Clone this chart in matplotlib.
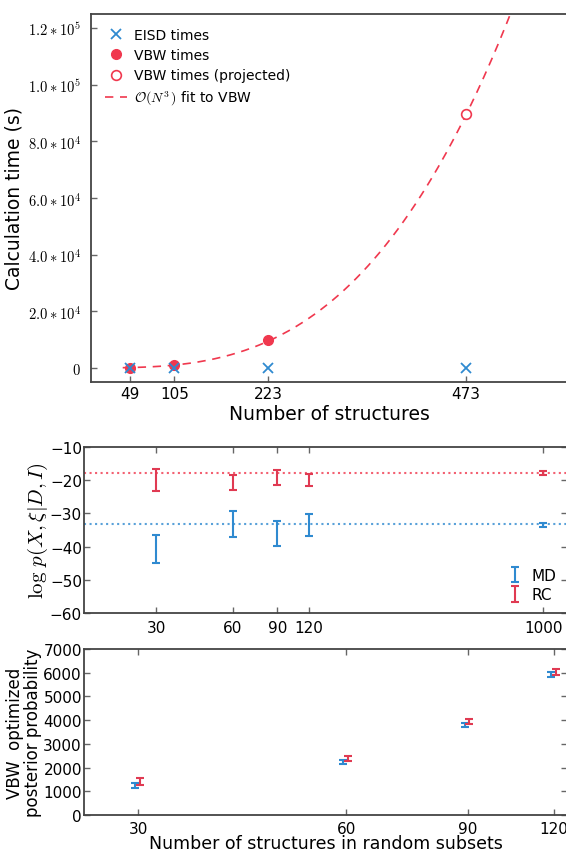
import numpy as np
import matplotlib
matplotlib.use("Agg")
import matplotlib.pyplot as plt
from matplotlib.ticker import FixedLocator, FixedFormatter, NullLocator

plt.rcParams['mathtext.fontset'] = 'cm'
plt.rcParams['font.family'] = ['DejaVu Sans']

# ---------------- data ----------------
# top panel
n_structs = [49, 105, 223, 473]
eisd_times = [5, 10, 30, 90]
vbw_n = [49, 105, 223]
vbw_times = [120, 1150, 9700]
vbw_proj_n = [473]
vbw_proj_times = [89500]
top_yticks = [0, 20000, 40000, 60000, 80000, 100000, 120000]
top_ytick_labels = [r'$0$', r'$2.0\ast10^{4}$', r'$4.0\ast10^{4}$', r'$6.0\ast10^{4}$',
                    r'$8.0\ast10^{4}$', r'$1.0\ast10^{5}$', r'$1.2\ast10^{5}$']

# middle panel
subset_n = [30, 60, 90, 120, 1000]
md_mean = [-40.7, -33.1, -36.0, -33.5, -33.5]
md_err = [4.3, 3.9, 3.7, 3.4, 0.6]
rc_mean = [-19.9, -20.6, -19.2, -19.9, -17.8]
rc_err = [3.4, 2.3, 2.3, 1.8, 0.6]
md_ref = -33.3
rc_ref = -17.8

# bottom panel
post_n = [30, 60, 90, 120]
md_post = [1240, 2240, 3800, 5920]
md_post_err = [120, 70, 90, 100]
rc_post = [1400, 2390, 3940, 6030]
rc_post_err = [140, 110, 120, 110]

# ---------------- style ----------------
BLUE = '#2f8ad0'
RED = '#f0384e'
RED2 = '#e03a52'
SPINE = '#444444'
W, H = 566, 853

fig = plt.figure(figsize=(W / 100, H / 100), dpi=100)

def ax_at(left, top, right, bottom):
    return fig.add_axes([left / W, 1 - bottom / H, (right - left) / W, (bottom - top) / H])

def style(ax, allsides=True):
    for s in ax.spines.values():
        s.set_color(SPINE)
        s.set_linewidth(1.3)
    ax.tick_params(direction='in', length=4, width=1, color='#666666',
                   top=allsides, right=allsides, labelsize=11)

# ---------------- top ----------------
ax1 = ax_at(91, 15, 567, 383)
style(ax1, allsides=False)
ax1.plot(n_structs, eisd_times, 'x', color=BLUE, ms=7, mew=1.3, label='EISD times', zorder=4)
ax1.plot(vbw_n, vbw_times, 'o', color=RED, ms=7, mec=RED, label='VBW times', zorder=3)
ax1.plot(vbw_proj_n, vbw_proj_times, 'o', mfc='white', mec=RED, ms=7, mew=1.2,
         label='VBW times (projected)', zorder=3)
all_n = np.array(vbw_n + vbw_proj_n, dtype=float)
all_t = np.array(vbw_times + vbw_proj_times, dtype=float)
a = np.sum(all_t * all_n ** 3) / np.sum(all_n ** 6)
nn = np.linspace(40, 600, 300)
ax1.plot(nn, a * nn ** 3, '--', color=RED, lw=1.2, dashes=(5, 4),
         label=r'$\mathcal{O}(N^3\,)$ fit to VBW', zorder=2)
ax1.set_xlim(0, 600)
ax1.set_ylim(-5000, 125000)
ax1.xaxis.set_major_locator(FixedLocator(n_structs))
ax1.yaxis.set_major_locator(FixedLocator(top_yticks))
ax1.yaxis.set_major_formatter(FixedFormatter(top_ytick_labels))
ax1.tick_params(axis='y', labelsize=10.5, pad=7)
ax1.tick_params(axis='x', labelsize=11, pad=3)
ax1.set_xlabel('Number of structures', fontsize=13.5, labelpad=2)
ax1.set_ylabel('Calculation time (s)', fontsize=13.5, labelpad=3)
ax1.legend(loc='upper left', frameon=False, fontsize=10, numpoints=1,
           handlelength=1.6, handletextpad=0.5, borderaxespad=0.4, labelspacing=0.45,
           borderpad=0.6)

# ---------------- middle ----------------
ax2 = ax_at(84, 448, 567, 614)
style(ax2)
ax2.axhline(rc_ref, color=RED, ls=':', lw=1.5, alpha=0.8, zorder=1)
ax2.axhline(md_ref, color=BLUE, ls=':', lw=1.5, alpha=0.8, zorder=1)
ax2.errorbar(subset_n, md_mean, yerr=md_err, fmt='none', ecolor=BLUE, elinewidth=1.5,
             capsize=3, capthick=1.5, label='MD', zorder=3)
ax2.errorbar(subset_n, rc_mean, yerr=rc_err, fmt='none', ecolor=RED2, elinewidth=1.5,
             capsize=3, capthick=1.5, label='RC', zorder=3)
ax2.set_xscale('log')
ax2.set_xlim(15.6, 1240)
ax2.set_ylim(-60, -10)
ax2.xaxis.set_major_locator(FixedLocator(subset_n))
ax2.xaxis.set_major_formatter(FixedFormatter([str(v) for v in subset_n]))
ax2.xaxis.set_minor_locator(NullLocator())
ax2.set_yticks([-60, -50, -40, -30, -20, -10])
ax2.tick_params(axis='y', pad=1.5)
ax2.tick_params(axis='x', pad=5)
ax2.set_ylabel(r'$\log\,p(X,\xi|D,I)$', fontsize=15, labelpad=0)
ax2.legend(loc='lower right', frameon=False, fontsize=11, handlelength=0.8,
           handletextpad=0.7, borderaxespad=0.3, labelspacing=0.3)

# ---------------- bottom ----------------
ax3 = ax_at(84, 650, 567, 816)
style(ax3)
blue_x = [v * 0.99 for v in post_n]
red_x = [v * 1.005 for v in post_n]
ax3.errorbar(blue_x, md_post, yerr=md_post_err, fmt='none', ecolor=BLUE, elinewidth=1.5,
             capsize=3, capthick=1.5, zorder=3)
ax3.errorbar(red_x, rc_post, yerr=rc_post_err, fmt='none', ecolor=RED2, elinewidth=1.5,
             capsize=3, capthick=1.5, zorder=3)
ax3.set_xscale('log')
ax3.set_xlim(25.05, 125.3)
ax3.set_ylim(0, 7000)
ax3.xaxis.set_major_locator(FixedLocator(post_n))
ax3.xaxis.set_major_formatter(FixedFormatter([str(v) for v in post_n]))
ax3.xaxis.set_minor_locator(NullLocator())
ax3.set_yticks(range(0, 7001, 1000))
ax3.tick_params(axis='y', pad=1.5)
ax3.tick_params(axis='x', pad=4)
ax3.set_xlabel('Number of structures in random subsets', fontsize=12.5, labelpad=-1)
ax3.set_ylabel('VBW  optimized\nposterior probability', fontsize=12, labelpad=1,
               linespacing=1.0)

fig.savefig('out.png', dpi=100)
